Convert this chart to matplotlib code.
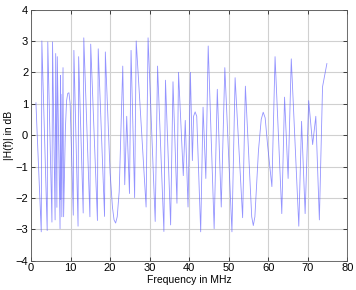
import numpy as np
import matplotlib.pyplot as plt

# vertices of |H(f)| (MHz, dB)
freq_mhz = [1.26, 1.5, 2.6, 2.75, 4.1, 4.25, 5.3, 5.45, 6.1, 6.25, 6.55, 6.65,
            7.35, 7.45, 7.5, 7.6, 7.8, 8.1, 8.25, 8.7, 9.0, 9.3, 9.6, 9.9, 10.2,
            10.7, 10.85, 11.9, 12.05, 13.2, 13.35, 14.9, 15.1, 16.8, 17.0, 18.6,
            18.8, 20.0, 20.6, 21.0, 21.4, 21.8, 22.3, 23.2, 23.7, 24.2, 24.9,
            25.3, 26.2, 26.6, 29.1, 29.6, 31.4, 32.0, 33.6, 34.0, 35.3, 35.9,
            36.9, 37.3, 38.5, 39.0, 39.7, 40.3, 40.8, 41.1, 41.5, 41.9, 42.9,
            43.5, 44.2, 44.8, 46.3, 47.1, 48.1, 49.0, 50.8, 51.6, 53.5, 54.2,
            55.8, 56.2, 56.6, 57.5, 58.2, 58.7, 59.2, 59.8, 60.9, 61.7, 63.4,
            64.1, 65.0, 65.8, 67.7, 68.4, 69.3, 70.2, 71.2, 72.0, 72.9, 73.7,
            74.8]
mag_db = [1.03, 0.25, -3.08, 3.0, -3.04, 2.97, -2.77, 2.97, -2.7, 2.6, -2.3, 2.5,
          -2.98, 1.9, -2.05, 1.3, -2.6, 2.15, -2.6, 0.2, 1.1, 1.33, 1.35, 1.0, -0.3,
          -2.55, 2.7, -2.9, 2.5, -2.48, 3.1, -2.6, 2.9, -2.72, 2.75, -2.59,
          2.65, -1.2, -2.3, -2.7, -2.8, -2.6, -1.8, 2.2, -1.58, 0.6, -1.86,
          2.7, -1.99, 3.0, -2.29, 3.1, -2.75, 2.2, -3.07, 1.75, -2.86, 1.7,
          -2.17, 2.0, -1.29, 0.47, -2.29, 2.0, -0.81, 0.6, 0.74, 0.6, -3.08,
          0.89, -1.38, 2.84, -2.98, 1.46, -2.29, 2.15, -3.08, 1.83, -2.63, 1.56,
          -2.6, -2.88, -2.6, -0.5, 0.5, 0.73, 0.55, -0.3, -1.64, 2.5, -2.5,
          1.21, -1.38, 2.43, -2.9, 0.44, -2.5, 1.1, -0.3, 0.6, -2.7, 1.54,
          2.28]

x_ticks = [0, 10, 20, 30, 40, 50, 60, 70, 80]
y_ticks = [-4, -3, -2, -1, 0, 1, 2, 3, 4]

plt.rcParams['font.family'] = ['Liberation Sans', 'DejaVu Sans']

fig = plt.figure(figsize=(3.56, 2.90), dpi=100)
ax = fig.add_axes([0.087, 0.101, 0.889, 0.866])

ax.plot(freq_mhz, mag_db, color='#5a5aff', lw=0.6, alpha=0.65)

ax.set_xlim(0, 80)
ax.set_ylim(-4, 4)
ax.set_xticks(x_ticks)
ax.set_yticks(y_ticks)
ax.grid(True, color='#d0d0d0', lw=0.8)
ax.set_axisbelow(True)
ax.tick_params(direction='in', length=3, labelsize=8, width=0.5,
               top=True, right=True, pad=2)
for s in ax.spines.values():
    s.set_linewidth(0.6)
    s.set_color('#555555')

ax.set_xlabel('Frequency in MHz', fontsize=7.5, labelpad=1)
ax.set_ylabel('|H(f)| in dB', fontsize=7.5, labelpad=1)

fig.savefig('out.png', dpi=100)
